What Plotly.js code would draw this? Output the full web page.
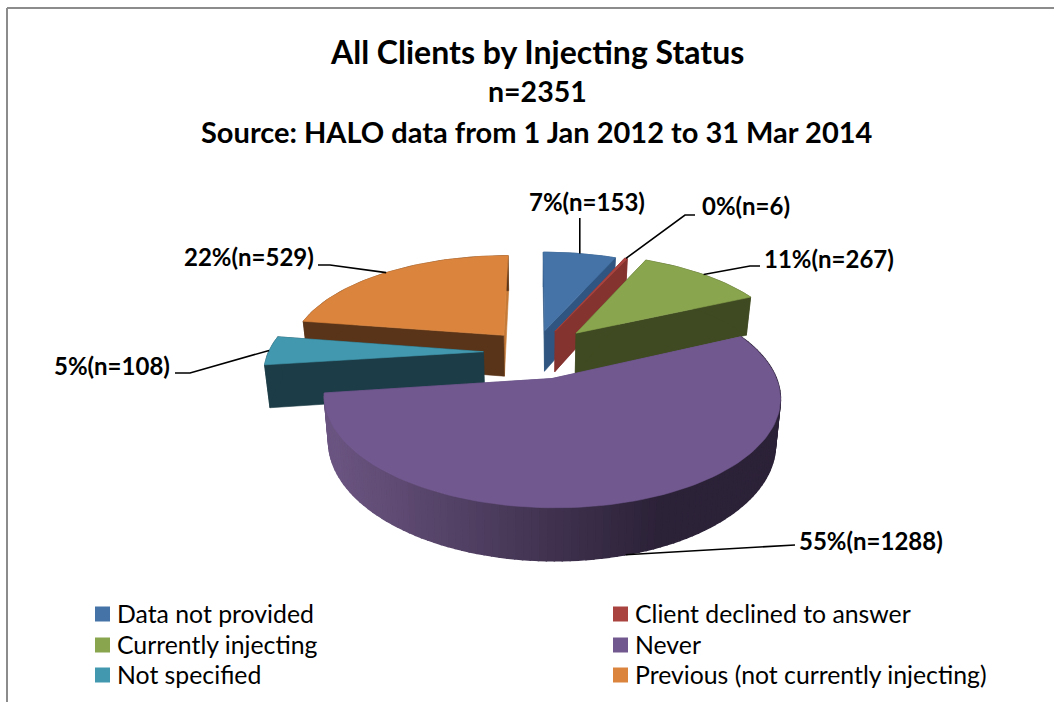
<!DOCTYPE html>
<html>
<head>
<meta charset="utf-8">
<script src="https://cdn.plot.ly/plotly-3.0.1.min.js"></script>
<style>html,body{margin:0;padding:0;background:#fff}</style>
</head>
<body>
<div id="chart" style="width:1054px;height:702px"></div>
<script>
const categories = ["Data not provided","Client declined to answer","Currently injecting","Never","Not specified","Previous (not currently injecting)"];
const counts = [153, 6, 267, 1288, 108, 529];
const percents = [7, 0, 11, 55, 5, 22];
const titleLines = ["All Clients by Injecting Status","n=2351","Source: HALO data from 1 Jan 2012 to 31 Mar 2014"];
const topColors = ["#4573a7","#a9433f","#89a54e","#71588f","#4198af","#db843d"];
const wallColors = ["#2f5580","#84332f","#3f4a22","#5a4a78","#1c3c47","#5a3418"];
const pull = [0.23, 0.24, 0.28, 0.27, 0.24, 0.23];
const drawOrder = [5, 4, 0, 1, 2, 3];
const labelPos = [[587,201],[746,205],[829,258],[871,540],[112,365],[249,256]];
const leaderElbow = [[583,218,583,218],[685,215,695,215],[750,266,760,266],[785,545,795,545],[190,373,175,373],[330,265,318,265]];

const CX = 535, CY = 352, R = 215, K = 98, P = 0.165, H = 42, TAPER = 0.98;
const total = counts.reduce((a, b) => a + b, 0);

function project(u, v, drop) {
  const s = 1 / (1 + P * v);
  const t = drop ? TAPER : 1;
  return [CX + R * u * s * t, CY - K * v * s + (drop ? H * s : 0)];
}
function point(i, r, th, mid, drop) {
  const u = pull[i] * Math.sin(mid) + r * Math.sin(th);
  const v = pull[i] * Math.cos(mid) + r * Math.cos(th);
  return project(u, v, drop);
}
function poly(pts, color, w) {
  const xs = pts.map(p => p[0]).concat([pts[0][0]]);
  const ys = pts.map(p => p[1]).concat([pts[0][1]]);
  return {x: xs, y: ys, type: 'scatter', mode: 'lines', fill: 'toself', fillcolor: color,
    line: {color: color, width: w === undefined ? 0.6 : w}, hoverinfo: 'skip', showlegend: false};
}
function mix(a, b, t) {
  const pa = [1,3,5].map(k => parseInt(a.substr(k,2),16));
  const pb = [1,3,5].map(k => parseInt(b.substr(k,2),16));
  return 'rgb(' + pa.map((c, k) => Math.round(c + (pb[k] - c) * t)).join(',') + ')';
}

const angles = [];
let run = 0;
counts.forEach(c => { const a = run / total * 2 * Math.PI; run += c; angles.push([a, run / total * 2 * Math.PI]); });

const traces = [];
drawOrder.forEach(i => {
  const [a, b] = angles[i];
  const mid = (a + b) / 2;
  const steps = Math.max(2, Math.ceil((b - a) / 0.03));
  const apexTop = point(i, 0, 0, mid, false), apexBot = point(i, 0, 0, mid, true);
  const face = th => [apexTop, point(i, 1, th, mid, false), point(i, 1, th, mid, true), apexBot];
  traces.push(poly(face(b), i === 5 ? "#c67a38" : wallColors[i]));
  traces.push(poly(face(a), wallColors[i]));
  if (i === 3) {
    for (let k = 0; k < steps; k++) {
      const t0 = a + (b - a) * k / steps, t1 = a + (b - a) * (k + 1) / steps;
      const p0 = point(i, 1, t0, mid, false), p1 = point(i, 1, t1, mid, false);
      const q0 = point(i, 1, t0, mid, true), q1 = point(i, 1, t1, mid, true);
      const f = Math.min(1, Math.max(0, ((p0[0] + p1[0]) / 2 - 335) / 320));
      traces.push(poly([p0, p1, q1, q0], mix("#6a5480", "#2c2238", f), 1.5));
    }
  } else {
    const top = [], bot = [];
    for (let k = 0; k <= steps; k++) {
      const t = a + (b - a) * k / steps;
      top.push(point(i, 1, t, mid, false));
      bot.unshift(point(i, 1, t, mid, true));
    }
    traces.push(poly(top.concat(bot), wallColors[i]));
  }
  const pts = [apexTop];
  for (let k = 0; k <= steps; k++) pts.push(point(i, 1, a + (b - a) * k / steps, mid, false));
  traces.push(poly(pts, topColors[i]));
});

const annotations = [];
categories.forEach((c, i) => {
  const [a, b] = angles[i];
  const mid = (a + b) / 2;
  const anchor = point(i, 1, i === 3 ? 2.87 : mid, mid, i === 3);
  const e = leaderElbow[i];
  const ex0 = i === 0 ? anchor[0] : e[0], ex1 = i === 0 ? anchor[0] : e[2];
  traces.push({x: [anchor[0], ex0, ex1], y: [anchor[1], e[1], e[3]], type: 'scatter', mode: 'lines',
    line: {color: '#000', width: 1.6}, hoverinfo: 'skip', showlegend: false});
  annotations.push({x: labelPos[i][0], y: labelPos[i][1], xref: 'x', yref: 'y', showarrow: false,
    text: '<b>' + percents[i] + '%(n=' + counts[i] + ')</b>',
    font: {family: 'Lato', size: 24, color: '#000'}, xanchor: 'center', yanchor: 'middle'});
});

const titleY = [51, 91, 131], titleSize = [32, 28.5, 29];
titleLines.forEach((t, i) => annotations.push({x: 537, y: titleY[i], xref: 'x', yref: 'y', showarrow: false,
  text: '<b>' + t + '</b>', font: {family: 'Lato', size: titleSize[i], color: '#000'}, xanchor: 'center', yanchor: 'middle'}));

// legend: two columns, three rows
const legendColX = [102.5, 620.5], legendRowY = [614, 645, 675];
categories.forEach((c, i) => {
  const col = i % 2, row = Math.floor(i / 2);
  traces.push({x: [legendColX[col]], y: [legendRowY[row]], type: 'scatter', mode: 'markers', name: c,
    marker: {symbol: 'square', size: 15, color: topColors[i]}, hoverinfo: 'skip', showlegend: false});
  annotations.push({x: legendColX[col] + 14.5, y: legendRowY[row] - 1, xref: 'x', yref: 'y', showarrow: false,
    text: c, font: {family: 'Lato', size: 24.8, color: '#000'}, xanchor: 'left', yanchor: 'middle', align: 'left', xshift: -2});
});

const layout = {
  width: 1054, height: 702,
  margin: {l: 0, r: 0, t: 0, b: 0, autoexpand: false},
  paper_bgcolor: '#fff', plot_bgcolor: '#fff',
  showlegend: false,
  xaxis: {range: [0, 1054], visible: false, fixedrange: true},
  yaxis: {range: [702, 0], visible: false, fixedrange: true},
  annotations: annotations,
  shapes: [
    {type: 'line', xref: 'x', yref: 'y', x0: 7, x1: 7, y0: 8, y1: 702, line: {color: '#8c8c8c', width: 2}},
    {type: 'line', xref: 'x', yref: 'y', x0: 7, x1: 1054, y0: 8, y1: 8, line: {color: '#8c8c8c', width: 2}}
  ]
};
Plotly.newPlot('chart', traces, layout, {displayModeBar: false, staticPlot: true});
</script>
</body>
</html>
